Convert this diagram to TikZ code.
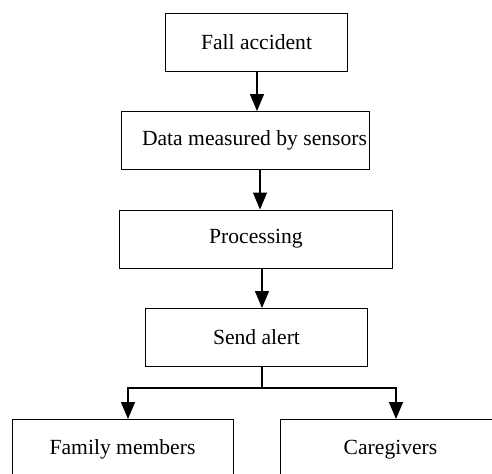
\documentclass[tikz,border=0pt]{standalone}
\usepackage{fontspec}
\setmainfont{Liberation Serif}
\usetikzlibrary{
    positioning,
    arrows.meta
}

\begin{document}
\begin{tikzpicture}[
      % Set distances between nodes
      node distance=19.75pt,
      font=\fontsize{10.8}{13}\selectfont,
      % Define styles for the elements
      stepbox/.style={
          rectangle,
          draw,
          line width=0.5pt,
          text centered,
          inner sep=0pt,
          minimum height=29pt
        },
      arrow/.style={
          -{Triangle[width=7pt,length=8.5pt]}, % Arrow tip style
          line width=0.7pt
        }
    ]

    % Fix the page size and cut the boxes at its edges
    \useasboundingbox (0,0) rectangle (246pt,-236.5pt);
    \clip (0,0) rectangle (246pt,-236.5pt);

    % Place the nodes
    \node[stepbox, minimum width=91pt] (fall) at (128.25pt,-21pt) {Fall accident};

    \node[stepbox, minimum width=124pt, below=of fall, xshift=-5.5pt] (data) {
      \hspace*{9pt}Data measured by sensors
    };

    \node[stepbox, minimum width=136.5pt, below=of data, xshift=5.25pt] (processing) {Processing};

    \node[stepbox, minimum width=111pt, below=of processing, xshift=0.25pt] (alert) {Send alert};

    \node[stepbox, minimum width=110.5pt, minimum height=30pt, anchor=north] (family) at (61.25pt,-209.5pt) {Family members};

    \node[stepbox, minimum width=110.5pt, minimum height=30pt, anchor=north] (caregivers) at (195.25pt,-209.5pt) {Caregivers};

    % Draw the arrows connecting the nodes
    \draw[arrow] ([xshift=0.25pt]fall.south) -- ([xshift=0.25pt]fall.south |- data.north);
    \draw[arrow] ([xshift=1.75pt]fall.south |- data.south) -- ([xshift=1.75pt]fall.south |- processing.north);
    \draw[arrow] ([xshift=3pt]processing.south) -- ([xshift=3pt]processing.south |- alert.north);

    % Split the alert towards both receivers
    \coordinate[below=10.5pt of alert.south, xshift=2.75pt] (split);
    \draw[line width=0.7pt] ([xshift=2.75pt]alert.south) -- (split);
    \draw[arrow] (split) -| ([xshift=2.75pt]family.north);
    \draw[arrow] (split) -| ([xshift=2.75pt]caregivers.north);

  \end{tikzpicture}
\end{document}
